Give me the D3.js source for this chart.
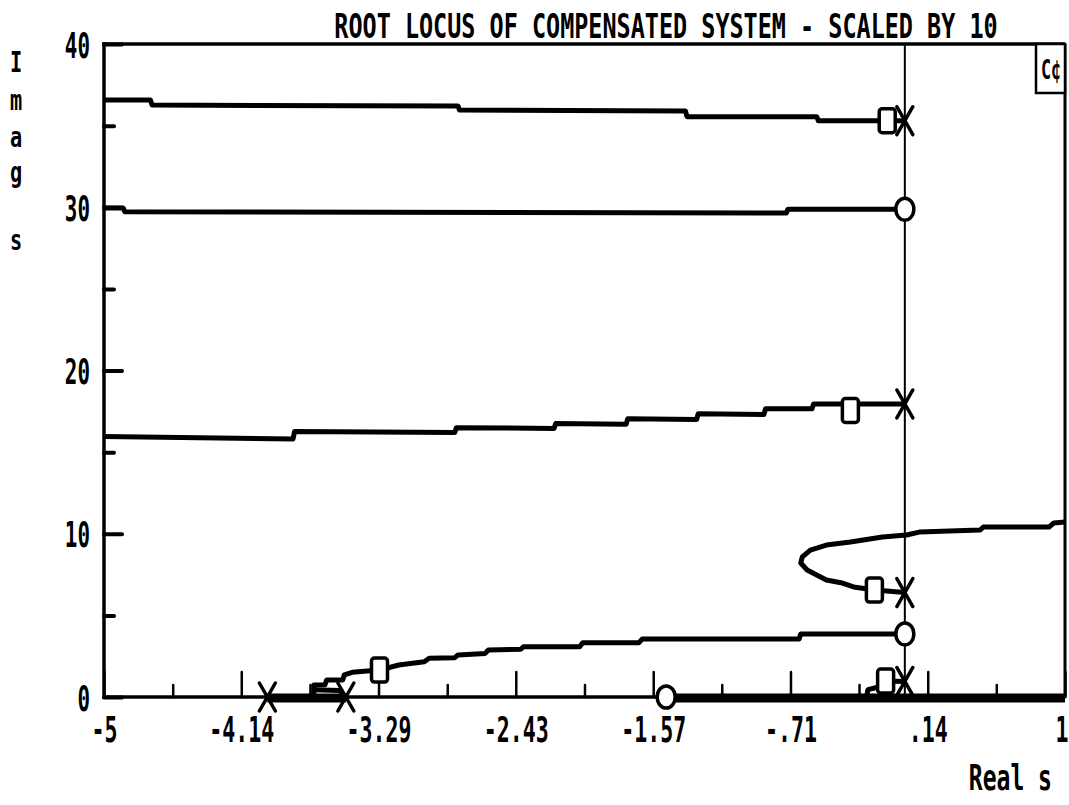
<!DOCTYPE html>
<html lang="en">
<head>
<meta charset="UTF-8" />
<title>Root locus of compensated system</title>
<script src="https://cdn.jsdelivr.net/npm/d3@7"></script>
<style>
  body { margin: 0; background: #fff; }
  svg text { font-family: "DejaVu Sans Mono", monospace; font-weight: bold; fill: #000; }
</style>
</head>
<body>
<div id="chart"></div>
<script>
// axis ticks (real axis split in 7 parts, labels as printed)
var xMajor = [-5, -4.143, -3.286, -2.429, -1.571, -0.714, 0.143, 1];
var xMinor = [-4.571, -3.714, -2.857, -2, -1.143, -0.286, 0.571];
var xTickLabels = ["-5", "-4.14", "-3.29", "-2.43", "-1.57", "-.71", ".14", "1"];
var yMajor = [0, 10, 20, 30, 40];
var yMinor = [5, 15, 25, 35];
var yTickLabels = ["0", "10", "20", "30", "40"];

// locus branches, [real, imag]
var branchTop = [[-5, 36.57], [-4.71, 36.57], [-4.70, 36.26], [-2.79, 36.2], [-2.78, 35.95],
  [-1.37, 35.9], [-1.36, 35.55], [-0.55, 35.55], [-0.54, 35.3], [0, 35.3]];
var branch30 = [[-5, 29.95], [-4.88, 29.95], [-4.87, 29.72], [-0.74, 29.65], [-0.73, 29.88], [0, 29.88]];
var branch17 = [[-5, 15.95], [-3.82, 15.8], [-3.81, 16.27], [-2.81, 16.2], [-2.80, 16.5], [-2.19, 16.45],
  [-2.18, 16.75], [-1.74, 16.7], [-1.73, 17.05], [-1.30, 17.0], [-1.29, 17.35], [-0.88, 17.3],
  [-0.87, 17.65], [-0.58, 17.65], [-0.57, 17.95], [0, 17.95]];
var branchNose = [[0, 6.4], [-0.19, 6.55], [-0.32, 6.74], [-0.39, 6.98], [-0.49, 7.17], [-0.55, 7.47],
  [-0.61, 7.78], [-0.65, 8.21], [-0.64, 8.58], [-0.59, 9.0], [-0.49, 9.31], [-0.34, 9.49],
  [-0.14, 9.8], [0.01, 9.92], [0.09, 10.1], [0.47, 10.23], [0.49, 10.41], [0.9, 10.41],
  [0.93, 10.66], [1.0, 10.72]];
var branchLow = [[-3.69, 0], [-3.69, 0.73], [-3.62, 0.75], [-3.61, 1.04], [-3.51, 1.04], [-3.50, 1.35],
  [-3.45, 1.51], [-3.28, 1.65], [-3.16, 1.96], [-3.0, 2.16], [-2.97, 2.37], [-2.81, 2.41],
  [-2.79, 2.57], [-2.62, 2.67], [-2.60, 2.88], [-2.40, 2.92], [-2.38, 3.08], [-2.03, 3.08],
  [-2.01, 3.33], [-1.66, 3.33], [-1.64, 3.55], [-0.66, 3.55], [-0.65, 3.86], [0, 3.86]];
var branchLoop = [[-3.69, 0.45], [-3.53, 0.4], [-3.49, 0]];
var branchNear = [[0, 0.95], [-0.12, 0.98], [-0.17, 0.6], [-0.23, 0.45], [-0.24, 0]];
var branches = [branchTop, branch30, branch17, branchNose, branchLow, branchLoop, branchNear];

// locus along the real axis
var realSegments = [[-3.98, -3.49], [-1.49, 1.0]];

// poles (x), zeros (o), current gain points (squares)
var poles = [[0, 35.3], [0, 17.95], [0, 6.4], [0, 0.95], [-3.98, 0], [-3.49, 0]];
var zeros = [[0, 29.88], [0, 3.86], [-1.49, 0]];
var gainPts = [[-0.11, 35.3], [-0.34, 17.55], [-0.19, 6.55], [-3.28, 1.65], [-0.12, 0.98]];

var W = 1069, H = 805;
var x = d3.scaleLinear().domain([-5, 1]).range([104, 1065]);
var y = d3.scaleLinear().domain([0, 40]).range([697, 44]);

var svg = d3.select("#chart").append("svg")
    .attr("width", W)
    .attr("height", H);

// imaginary axis
svg.append("line")
    .attr("x1", x(0)).attr("x2", x(0))
    .attr("y1", y(40)).attr("y2", y(0))
    .attr("stroke", "#000").attr("stroke-width", 2);

// frame
var frame = svg.append("g").attr("stroke", "#000").attr("stroke-width", 3.5);
frame.append("line").attr("x1", x(-5)).attr("x2", x(-5)).attr("y1", y(40) - 2).attr("y2", y(0) + 2);
frame.append("line").attr("x1", x(-5)).attr("x2", x(1)).attr("y1", y(40)).attr("y2", y(40));
frame.append("line").attr("x1", x(1)).attr("x2", x(1)).attr("y1", y(40)).attr("y2", y(0)).attr("stroke-width", 3);
frame.append("line").attr("x1", x(-5)).attr("x2", x(1)).attr("y1", y(0)).attr("y2", y(0));

// ticks
function styleTicks(g, w) {
  g.select(".domain").remove();
  g.selectAll(".tick line").attr("stroke-width", w).attr("stroke-linecap", "round");
  g.attr("font-size", null).attr("font-family", null);
}
svg.append("g")
    .attr("transform", "translate(0," + y(0) + ")")
    .call(d3.axisBottom(x).tickValues(xMinor).tickSize(-12).tickFormat(""))
    .call(styleTicks, 2.5);
var gx = svg.append("g")
    .attr("transform", "translate(0," + y(0) + ")")
    .call(d3.axisBottom(x).tickValues(xMajor).tickSize(-25)
      .tickFormat(function(d, i) { return xTickLabels[i]; }))
    .call(styleTicks, 2.5);
gx.selectAll(".tick text")
    .attr("y", null).attr("dy", null)
    .attr("text-anchor", function(d, i) { return i === xMajor.length - 1 ? "end" : "middle"; })
    .attr("transform", function(d, i) {
      return "translate(" + (i === xMajor.length - 1 ? 3 : 0) + ",45) scale(0.6,1)";
    })
    .style("font-size", "36px");

svg.append("g")
    .attr("transform", "translate(" + x(-5) + ",0)")
    .call(d3.axisLeft(y).tickValues(yMinor).tickSize(-10).tickFormat(""))
    .call(styleTicks, 4);
var gy = svg.append("g")
    .attr("transform", "translate(" + x(-5) + ",0)")
    .call(d3.axisLeft(y).tickValues(yMajor).tickSize(-18)
      .tickFormat(function(d, i) { return yTickLabels[i]; }))
    .call(styleTicks, 4);
gy.selectAll(".tick text")
    .attr("x", null).attr("dy", null)
    .attr("transform", "translate(-14,13) scale(0.58,1)")
    .style("font-size", "36px");

// locus lines
var line = d3.line()
    .x(function(d) { return x(d[0]); })
    .y(function(d) { return y(d[1]); });

svg.append("g").selectAll("path")
  .data(branches)
  .enter()
  .append("path")
    .attr("d", line)
    .attr("fill", "none")
    .attr("stroke", "#000")
    .attr("stroke-width", 5)
    .attr("stroke-linejoin", "round");

svg.append("g").selectAll("line")
  .data(realSegments)
  .enter()
  .append("line")
    .attr("x1", function(d) { return x(d[0]); })
    .attr("x2", function(d) { return x(d[1]); })
    .attr("y1", y(0) + 1)
    .attr("y2", y(0) + 1)
    .attr("stroke", "#000")
    .attr("stroke-width", 9);

// markers
svg.append("g").selectAll("rect")
  .data(gainPts)
  .enter()
  .append("rect")
    .attr("x", function(d) { return x(d[0]) - 8; })
    .attr("y", function(d) { return y(d[1]) - 12; })
    .attr("width", 16)
    .attr("height", 24)
    .attr("rx", 3)
    .attr("fill", "#fff")
    .attr("stroke", "#000")
    .attr("stroke-width", 3.5);

svg.append("g").selectAll("ellipse")
  .data(zeros)
  .enter()
  .append("ellipse")
    .attr("cx", function(d) { return x(d[0]); })
    .attr("cy", function(d) { return y(d[1]); })
    .attr("rx", 9)
    .attr("ry", 11)
    .attr("fill", "#fff")
    .attr("stroke", "#000")
    .attr("stroke-width", 3.5);

svg.append("g").selectAll("path")
  .data(poles)
  .enter()
  .append("path")
    .attr("transform", function(d) { return "translate(" + x(d[0]) + "," + y(d[1]) + ")"; })
    .attr("d", "M-8,-14L8,14M8,-14L-8,14")
    .attr("fill", "none")
    .attr("stroke", "#000")
    .attr("stroke-width", 3.5)
    .attr("stroke-linecap", "round");

// title and axis names
svg.append("text")
    .attr("text-anchor", "middle")
    .attr("transform", "translate(666,38) scale(0.69,1)")
    .style("font-size", "34px")
    .text("ROOT LOCUS OF COMPENSATED SYSTEM - SCALED BY 10");

var yName = [["I", 72], ["m", 110], ["a", 147], ["g", 182], ["s", 250]];
svg.append("g").selectAll("text")
  .data(yName)
  .enter()
  .append("text")
    .attr("text-anchor", "middle")
    .attr("transform", function(d) { return "translate(16," + d[1] + ") scale(0.7,1)"; })
    .style("font-size", "29px")
    .text(function(d) { return d[0]; });

svg.append("text")
    .attr("text-anchor", "end")
    .attr("transform", "translate(1052,790) scale(0.64,1)")
    .style("font-size", "36px")
    .text("Real s");

// legend box
svg.append("rect")
    .attr("x", 1036).attr("y", y(40))
    .attr("width", x(1) - 1036).attr("height", 49)
    .attr("fill", "#fff")
    .attr("stroke", "#000")
    .attr("stroke-width", 2.5);
svg.append("text")
    .attr("text-anchor", "middle")
    .attr("transform", "translate(1051,79) scale(0.62,1)")
    .style("font-size", "27px")
    .text("C¢");
</script>
</body>
</html>
